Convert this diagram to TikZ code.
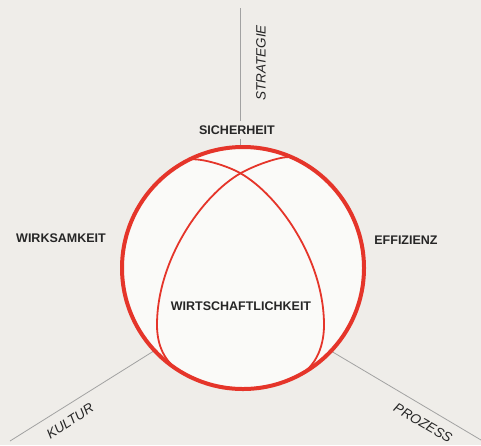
\documentclass[tikz,border=0pt]{standalone}
\usepackage{fontspec}
\setmainfont{Liberation Sans}
\usetikzlibrary{calc}

\definecolor{papier}{HTML}{EFEDE9}
\definecolor{kugel}{HTML}{FAFAF8}
\definecolor{kreisrot}{HTML}{E5352A}
\definecolor{achsgrau}{HTML}{A2A2A2}
\definecolor{schrift}{HTML}{262626}

\begin{document}
\begin{tikzpicture}[x=1pt, y=-1pt,
	achse/.style={achsgrau, line width=0.8pt},
	meridian/.style={kreisrot, line width=1.8pt},
	begriff/.style={text=schrift, font=\fontsize{12.5}{14}\selectfont\bfseries, inner sep=1pt},
	achsname/.style={text=schrift, font=\fontsize{13.5}{15}\selectfont\itshape, inner sep=1pt}]
	\useasboundingbox (0,0) rectangle (481,445);
	\fill[papier] (0,0) rectangle (481,445);

	% achsen
	\coordinate (mitte) at (240,297);
	\coordinate (oben) at (240,8);
	\coordinate (links) at (10,441);
	\coordinate (rechts) at (481,440);
	\draw[achse] (mitte) -- (oben);
	\draw[achse] (mitte) -- (links);
	\draw[achse] (mitte) -- (rechts);

	% kugel
	\coordinate (zentrum) at (243,268);
	\fill[kugel] (zentrum) circle[radius=121pt];
	\draw[meridian] (188,160.2) .. controls (195.1,156.6) and (224.3,164.2) .. (240,173)
		.. controls (279,195) and (324,260) .. (324,325)
		.. controls (324,350) and (313.2,367.6) .. (300,374.7);
	\draw[meridian] (293,157.8) .. controls (285.9,154.2) and (256.7,164.2) .. (241,173)
		.. controls (202,195) and (157,260) .. (157,325)
		.. controls (157,350) and (168.1,364.3) .. (181,372);
	\draw[kreisrot, line width=4pt] (zentrum) circle[radius=121pt];

	% begriffe
	\node[begriff, fill=papier, inner xsep=3pt, inner ysep=5pt] (sicherheit) at (237,130) {SICHERHEIT};
	\node[begriff] (wirksamkeit) at (61,238) {WIRKSAMKEIT};
	\node[begriff] (effizienz) at (406,240) {EFFIZIENZ};
	\node[begriff] (wirtschaftlichkeit) at (241,306) {WIRTSCHAFTLICHKEIT};

	\node[achsname, rotate=90] (strategie) at (261,63) {STRATEGIE};
	\node[achsname, rotate=33] (kultur) at (70,421) {KULTUR};
	\node[achsname, rotate=-30] (prozess) at (423,423) {PROZESS};
\end{tikzpicture}
\end{document}
